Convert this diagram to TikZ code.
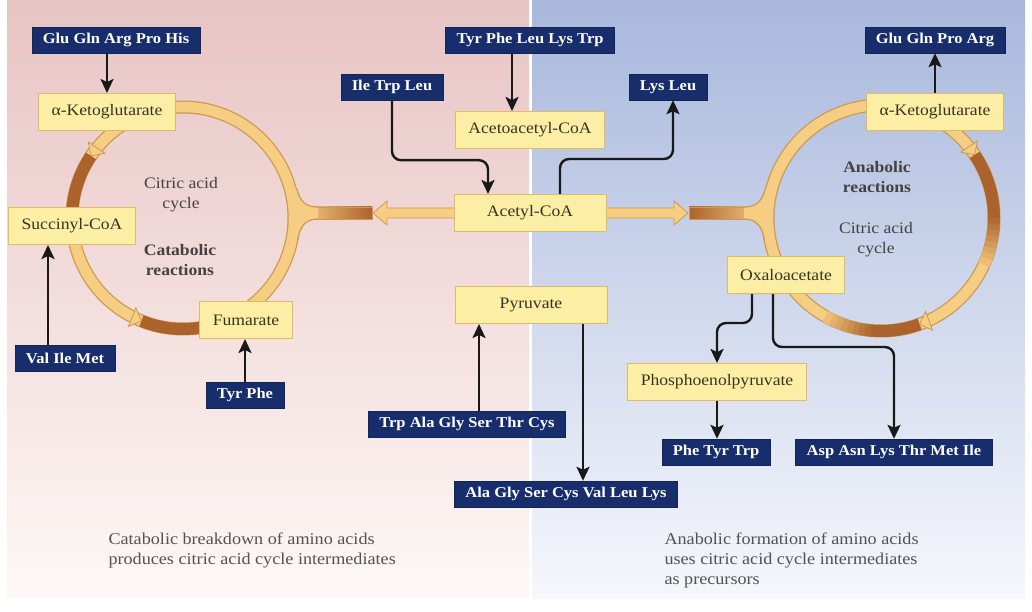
\documentclass[tikz,border=0pt]{standalone}
\usepackage{fontspec}
\setmainfont{Liberation Serif}[FakeStretch=1.1]
\usetikzlibrary{arrows.meta}

\definecolor{navy}{RGB}{24,46,108}
\definecolor{metfill}{RGB}{252,238,165}
\definecolor{metedge}{RGB}{226,186,96}
\definecolor{mettext}{RGB}{58,50,32}
\definecolor{ringlight}{RGB}{245,206,132}
\definecolor{ringedge}{RGB}{206,152,78}
\definecolor{ringdark}{RGB}{172,98,44}
\definecolor{pinktop}{RGB}{232,196,196}
\definecolor{pinkbot}{RGB}{253,248,246}
\definecolor{bluetop}{RGB}{168,184,220}
\definecolor{bluebot}{RGB}{246,247,252}
\definecolor{notegray}{RGB}{70,64,64}

\begin{document}
\begin{tikzpicture}[x=1pt,y=-1pt,
  aabox/.style={fill=navy,draw=navy!80!black,text=white,inner xsep=11pt,
    minimum height=26pt,font=\fontsize{15}{18}\selectfont\bfseries},
  metbox/.style={fill=metfill,draw=metedge,line width=1pt,text=mettext,
    inner xsep=13pt,minimum height=37pt,font=\fontsize{16}{19}\selectfont},
  cyclenote/.style={text=notegray,align=center,font=\fontsize{16}{20}\selectfont},
  sidenote/.style={text=black!68,align=left,anchor=west,font=\fontsize{16.5}{20}\selectfont},
  flow/.style={draw=black!90,line width=2.4pt,-{Stealth[length=14pt,width=13pt,inset=3pt]}},
  ringtip/.pic={\filldraw[fill=ringlight,draw=ringedge,line width=0.8pt]
    (0,0) -- (-10,10) -- (-10,-10) -- cycle;}]
  \useasboundingbox (0,0) rectangle (1032,612);
  % catabolic and anabolic halves
  \shade[top color=pinktop,bottom color=pinkbot] (7,0) rectangle (529,598);
  \shade[top color=bluetop,bottom color=bluebot] (532,0) rectangle (1025,598);

  % the two citric acid cycles
  \coordinate (lcyc) at (183,218);
  \coordinate (rcyc) at (881,218);
  \draw[ringedge,line width=13pt] (lcyc) circle[radius=111];
  \draw[ringlight,line width=10.5pt] (lcyc) circle[radius=111];
  \draw[ringedge,line width=13pt] (rcyc) circle[radius=113];
  \draw[ringlight,line width=10.5pt] (rcyc) circle[radius=113];
  \draw[ringdark,line width=12pt] (lcyc) ++(-146:111) arc[start angle=-146,end angle=-185,radius=111];
  \draw[ringdark,line width=12pt] (lcyc) ++(-248:111) arc[start angle=-248,end angle=-280,radius=111];
  \draw[ringdark,line width=12pt] (rcyc) ++(-34:113) arc[start angle=-34,end angle=1,radius=113];
  \draw[ringdark,line width=12pt] (rcyc) ++(70:113) arc[start angle=70,end angle=96,radius=113];
  % fading tails of the anabolic stretches
  \foreach \k in {0,...,7} {
    \pgfmathtruncatemacro\mixpct{92-11*\k}
    \draw[ringdark!\mixpct!ringlight,line width=12pt] (rcyc) ++(\k*3:113)
      arc[start angle=\k*3,end angle=\k*3+3.5,radius=113];
    \draw[ringdark!\mixpct!ringlight,line width=12pt] (rcyc) ++(95+\k*3:113)
      arc[start angle=95+\k*3,end angle=98.5+\k*3,radius=113];
  }
  \path (lcyc) ++(-146:111) pic[rotate=236] {ringtip};
  \path (lcyc) ++(-248:111) pic[rotate=338] {ringtip};
  \path (rcyc) ++(-34:113) pic[rotate=-56] {ringtip};
  \path (rcyc) ++(70:113) pic[rotate=-160] {ringtip};

  % links between the cycles and acetyl-CoA
  \shadedraw[left color=ringlight,right color=ringdark,draw=ringedge] (298,207) rectangle (372,219);
  \shadedraw[left color=ringdark,right color=ringlight,draw=ringedge] (689,207) rectangle (766,219);
  \fill[ringlight] (290,186) -- (296.5,188) .. controls (300,201) and (305,207) .. (318,207)
    -- (318,219) .. controls (305,219) and (300,227) .. (297.5,240) -- (290,240) -- cycle;
  \draw[ringedge,line width=1.2pt] (296.5,188) .. controls (300,201) and (305,207) .. (318,207);
  \draw[ringedge,line width=1.2pt] (318,219) .. controls (305,219) and (300,227) .. (297.5,240);
  \fill[ringlight] (772,186) -- (765.5,188) .. controls (762,201) and (757,207) .. (744,207)
    -- (744,219) .. controls (757,219) and (762,227) .. (764.5,240) -- (772,240) -- cycle;
  \draw[ringedge,line width=1.2pt] (765.5,188) .. controls (762,201) and (757,207) .. (744,207);
  \draw[ringedge,line width=1.2pt] (744,219) .. controls (757,219) and (762,227) .. (764.5,240);
  \filldraw[fill=ringlight,draw=ringedge,line width=0.8pt] (454,208) -- (387,208) -- (387,201)
    -- (373,213) -- (387,225) -- (387,218) -- (454,218);
  \filldraw[fill=ringlight,draw=ringedge,line width=0.8pt] (606,208) -- (674,208) -- (674,201)
    -- (688,213) -- (674,225) -- (674,218) -- (606,218);

  % intermediates
  \node[metbox] (akgl) at (107,112) {α-Ketoglutarate};
  \node[metbox] (succ) at (72,226) {Succinyl-CoA};
  \node[metbox] (fum) at (246,320) {Fumarate};
  \node[metbox] (acac) at (530,130) {Acetoacetyl-CoA};
  \node[metbox,minimum width=152pt] (acoa) at (530,213) {Acetyl-CoA};
  \node[metbox,minimum width=152pt] (pyr) at (531,305) {Pyruvate};
  \node[metbox] (akgr) at (935,112) {α-Ketoglutarate};
  \node[metbox] (oaa) at (786,275) {Oxaloacetate};
  \node[metbox] (pep) at (717,382) {Phosphoenolpyruvate};

  % amino acids
  \node[aabox] (gga) at (116,40) {Glu Gln Arg Pro His};
  \node[aabox] (vim) at (65,358) {Val Ile Met};
  \node[aabox] (tp) at (245,395) {Tyr Phe};
  \node[aabox] (itl) at (392,87) {Ile Trp Leu};
  \node[aabox] (tpllt) at (530,40) {Tyr Phe Leu Lys Trp};
  \node[aabox] (ll) at (668,87) {Lys Leu};
  \node[aabox] (ggpa) at (935,40) {Glu Gln Pro Arg};
  \node[aabox] (tagstc) at (467,424) {Trp Ala Gly Ser Thr Cys};
  \node[aabox] (agscvll) at (566,494) {Ala Gly Ser Cys Val Leu Lys};
  \node[aabox] (ptt) at (716,452) {Phe Tyr Trp};
  \node[aabox] (aaltmi) at (894,452) {Asp Asn Lys Thr Met Ile};

  % texts
  \node[cyclenote] (citl) at (181,195) {Citric acid\\cycle};
  \node[cyclenote,font=\fontsize{16}{20}\selectfont\bfseries] (catl) at (180,260) {Catabolic\\reactions};
  \node[cyclenote,font=\fontsize{16}{20}\selectfont\bfseries] (anar) at (877,177) {Anabolic\\reactions};
  \node[cyclenote] (citr) at (876,240) {Citric acid\\cycle};
  \node[sidenote] (capl) at (105,550) {Catabolic breakdown of amino acids\\produces citric acid cycle intermediates};
  \node[sidenote] (capr) at (661,560) {Anabolic formation of amino acids\\uses citric acid cycle intermediates\\as precursors};

  % conversions
  \draw[flow] (gga.south -| akgl.north) -- (akgl.north);
  \draw[flow] ([xshift=-17pt]vim.north) -- ([xshift=-17pt]vim.north |- succ.south);
  \draw[flow] (tp.north) -- (tp.north |- fum.south);
  \draw[flow,rounded corners=9pt] (itl.south) -- ++(0,60) -| ([xshift=-42pt]acoa.north);
  \draw[flow] ([xshift=-18pt]tpllt.south) -- ([xshift=-18pt]tpllt.south |- acac.north);
  \draw[flow,rounded corners=9pt] ([xshift=30pt]acoa.north) -- ++(0,-35) -| ([xshift=5pt]ll.south);
  \draw[flow] (akgr.north) -- (akgr.north |- ggpa.south);
  \draw[flow] ([xshift=12pt]tagstc.north) -- ([xshift=12pt]tagstc.north |- pyr.south);
  \draw[flow] ([xshift=52pt]pyr.south) -- ([xshift=52pt]pyr.south |- agscvll.north);
  \draw[flow,rounded corners=9pt] ([xshift=-34pt]oaa.south) -- ++(0,29) -| (pep.north);
  \draw[flow,rounded corners=9pt] ([xshift=-13pt]oaa.south) -- ++(0,53) -| (aaltmi.north);
  \draw[flow] (pep.south) -- (pep.south |- ptt.north);
\end{tikzpicture}
\end{document}
